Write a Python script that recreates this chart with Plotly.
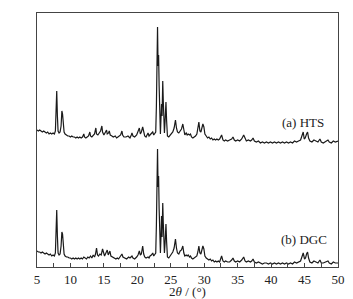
import plotly.graph_objects as go

# XRD pattern (a) HTS: 2theta and intensity (a.u.)
two_theta_a = [5.0, 5.2, 5.4, 5.6, 5.8, 6.0, 6.2, 6.4, 6.6, 6.8, 7.0, 7.2, 7.4, 7.6, 7.75, 7.85, 7.95, 8.05, 8.15,
               8.3, 8.45, 8.6, 8.72, 8.82, 8.92, 9.05, 9.2, 9.4, 9.6, 9.8, 10.0, 10.2, 10.4, 10.6, 10.8, 11.0, 11.2,
               11.4, 11.6, 11.8, 12.0, 12.1, 12.3, 12.5, 12.7, 12.9, 13.0, 13.2, 13.4, 13.6, 13.8, 13.9, 14.1, 14.3,
               14.5, 14.7, 14.8, 15.0, 15.2, 15.4, 15.5, 15.7, 15.8, 15.95, 16.2, 16.4, 16.7, 16.9, 17.1, 17.3, 17.5,
               17.7, 17.8, 18.0, 18.3, 18.6, 18.9, 19.1, 19.2, 19.35, 19.6, 19.9, 20.1, 20.3, 20.45, 20.6, 20.8,
               20.95, 21.1, 21.3, 21.5, 21.6, 21.75, 21.9, 22.1, 22.3, 22.45, 22.6, 22.75, 22.85, 22.95, 23.02, 23.1,
               23.18, 23.26, 23.35, 23.45, 23.55, 23.62, 23.7, 23.8, 23.88, 23.95, 24.05, 24.15, 24.28, 24.38, 24.5,
               24.7, 24.9, 25.1, 25.3, 25.5, 25.7, 25.85, 26.0, 26.2, 26.4, 26.6, 26.8, 26.95, 27.1, 27.3, 27.45,
               27.6, 27.8, 27.95, 28.1, 28.3, 28.5, 28.7, 28.9, 29.05, 29.2, 29.35, 29.5, 29.65, 29.8, 29.95, 30.1,
               30.3, 30.5, 30.7, 30.9, 31.1, 31.3, 31.5, 31.7, 31.9, 32.1, 32.3, 32.6, 32.8, 33.0, 33.2, 33.5, 33.8,
               34.1, 34.3, 34.5, 34.7, 35.0, 35.3, 35.6, 35.9, 36.1, 36.3, 36.6, 36.9, 37.1, 37.3, 37.5, 37.8, 38.1,
               38.4, 38.7, 39.0, 39.3, 39.6, 39.9, 40.2, 40.5, 40.8, 41.1, 41.4, 41.7, 42.0, 42.3, 42.6, 42.9, 43.2,
               43.5, 43.8, 44.1, 44.4, 44.6, 44.8, 44.95, 45.1, 45.3, 45.45, 45.6, 45.8, 46.1, 46.4, 46.7, 47.0,
               47.3, 47.5, 47.8, 48.1, 48.5, 48.7, 49.0, 49.3, 49.6, 50.0]
intensity_a = [16, 15, 16, 15, 14, 15, 14, 13, 14, 12, 13, 12, 13, 12, 15, 30, 55, 30, 15,
               13, 14, 20, 35, 32, 20, 14, 12, 11, 10, 10, 9, 10, 9, 9, 8, 9, 8,
               9, 8, 9, 12, 9, 8, 9, 10, 14, 10, 9, 11, 12, 18, 12, 11, 13,
               15, 20, 14, 11, 13, 16, 12, 13, 15, 11, 10, 9, 10, 8, 9, 10, 11,
               15, 11, 9, 9, 10, 8, 11, 13, 10, 9, 11, 14, 18, 12, 14, 19,
               12, 10, 9, 11, 13, 10, 11, 12, 14, 11, 12, 14, 40, 90, 119, 80,
               91, 60, 15, 12, 30, 42, 30, 65, 45, 15, 13, 25, 44, 25, 10,
               9, 11, 12, 14, 18, 26, 18, 14, 13, 15, 17, 22, 14, 11, 13, 11,
               12, 11, 12, 9, 8, 9, 10, 12, 18, 24, 15, 14, 18, 22, 19, 12,
               10, 8, 9, 7, 8, 6, 7, 6, 7, 6, 7, 11, 6, 5, 6, 5, 6,
               7, 9, 6, 5, 6, 5, 7, 11, 7, 5, 6, 5, 6, 8, 5, 4, 5,
               3, 4, 3, 4, 3, 4, 3, 4, 3, 4, 3, 4, 3, 4, 3, 4, 3,
               5, 4, 5, 6, 10, 14, 7, 8, 12, 14, 8, 5, 4, 6, 5, 4,
               7, 4, 3, 4, 6, 4, 3, 5, 4, 5]

# XRD pattern (b) DGC
two_theta_b = [5.0, 5.2, 5.4, 5.6, 5.8, 6.0, 6.2, 6.4, 6.6, 6.8, 7.0, 7.2, 7.4, 7.6, 7.75, 7.85, 7.95, 8.05, 8.15,
               8.3, 8.45, 8.6, 8.72, 8.82, 8.92, 9.05, 9.2, 9.4, 9.6, 9.8, 10.0, 10.2, 10.4, 10.6, 10.8, 11.0, 11.2,
               11.4, 11.6, 11.8, 12.0, 12.2, 12.4, 12.6, 12.8, 13.0, 13.2, 13.4, 13.6, 13.75, 13.9, 14.05, 14.2,
               14.4, 14.6, 14.8, 14.95, 15.1, 15.3, 15.5, 15.65, 15.8, 15.9, 16.05, 16.3, 16.5, 16.8, 17.0, 17.2,
               17.4, 17.55, 17.7, 17.85, 18.1, 18.4, 18.7, 18.9, 19.05, 19.2, 19.35, 19.6, 19.9, 20.1, 20.3, 20.45,
               20.6, 20.8, 20.95, 21.1, 21.3, 21.5, 21.6, 21.75, 21.9, 22.1, 22.3, 22.45, 22.6, 22.75, 22.85, 22.95,
               23.02, 23.1, 23.18, 23.26, 23.35, 23.45, 23.55, 23.62, 23.7, 23.8, 23.88, 23.95, 24.05, 24.15, 24.28,
               24.38, 24.5, 24.7, 24.9, 25.1, 25.3, 25.5, 25.7, 25.85, 26.0, 26.2, 26.4, 26.6, 26.8, 26.95, 27.1,
               27.3, 27.45, 27.6, 27.8, 27.95, 28.1, 28.3, 28.5, 28.7, 28.9, 29.05, 29.2, 29.35, 29.5, 29.65, 29.8,
               29.95, 30.1, 30.3, 30.5, 30.7, 30.9, 31.1, 31.3, 31.5, 31.7, 31.9, 32.1, 32.3, 32.6, 32.8, 33.0,
               33.2, 33.5, 33.8, 34.1, 34.3, 34.5, 34.7, 35.0, 35.3, 35.6, 35.9, 36.1, 36.3, 36.6, 36.9, 37.1,
               37.3, 37.5, 37.8, 38.1, 38.4, 38.7, 39.0, 39.3, 39.6, 39.9, 40.2, 40.5, 40.8, 41.1, 41.4, 41.7,
               42.0, 42.3, 42.6, 42.9, 43.2, 43.5, 43.8, 44.1, 44.4, 44.6, 44.8, 45.0, 45.15, 45.3, 45.45, 45.6,
               45.8, 46.1, 46.4, 46.7, 47.0, 47.3, 47.5, 47.8, 48.1, 48.5, 48.7, 49.0, 49.3, 49.6, 50.0]
intensity_b = [16, 15, 15, 14, 15, 14, 13, 14, 13, 12, 13, 11, 12, 11, 14, 32, 57, 31, 14,
               12, 13, 21, 35, 33, 19, 13, 11, 10, 10, 9, 9, 8, 9, 8, 9, 8, 9,
               8, 9, 8, 10, 9, 8, 10, 9, 11, 9, 12, 10, 13, 19, 12, 11,
               13, 12, 18, 13, 11, 14, 17, 12, 14, 16, 11, 10, 9, 8, 9, 8,
               10, 11, 13, 10, 9, 8, 10, 9, 10, 11, 9, 8, 10, 12, 16, 12,
               13, 21, 13, 10, 9, 10, 10, 9, 11, 12, 14, 11, 12, 14, 42, 95,
               118, 80, 91, 58, 17, 14, 33, 51, 30, 64, 44, 20, 14, 24, 43,
               25, 10, 9, 11, 13, 15, 19, 28, 19, 14, 13, 16, 17, 21, 14, 11,
               12, 11, 12, 10, 11, 9, 8, 9, 10, 11, 15, 21, 14, 13, 17, 21,
               18, 11, 9, 8, 7, 8, 6, 7, 5, 6, 5, 6, 5, 11, 6, 5,
               6, 5, 5, 7, 9, 6, 5, 6, 5, 7, 10, 6, 5, 6, 5, 6,
               8, 5, 4, 5, 4, 3, 4, 4, 3, 4, 3, 4, 3, 4, 3, 4,
               3, 4, 3, 4, 3, 5, 4, 5, 6, 10, 14, 8, 9, 13, 15, 9,
               5, 4, 6, 5, 4, 7, 4, 4, 5, 6, 4, 3, 5, 4, 4]

offset_a = 121  # spostamento verticale del pattern (a)

x_ticks = [5, 10, 15, 20, 25, 30, 35, 40, 45, 50]

serif = 'Liberation Serif, Times New Roman, Times, serif'

fig = go.Figure()
fig.add_trace(go.Scatter(x=two_theta_b, y=intensity_b, mode='lines',
                         line=dict(color='#1a1a1a', width=1.2)))
fig.add_trace(go.Scatter(x=two_theta_a, y=[v + offset_a for v in intensity_a], mode='lines',
                         line=dict(color='#1a1a1a', width=1.2)))

fig.add_annotation(x=44.7, y=145, text='(a) HTS', showarrow=False, xanchor='center', yanchor='middle',
                   font=dict(family=serif, size=13, color='#222'))
fig.add_annotation(x=44.9, y=28, text='(b) DGC', showarrow=False, xanchor='center', yanchor='middle',
                   font=dict(family=serif, size=13, color='#222'))

fig.update_layout(
    width=353, height=299,
    margin=dict(l=37, r=15, t=13, b=32),
    paper_bgcolor='white', plot_bgcolor='white',
    showlegend=False,
    font=dict(family=serif, size=13, color='#222'),
    xaxis=dict(range=[5, 50], tickvals=x_ticks, ticks='inside', ticklen=4, tickcolor='#444',
               minor=dict(dtick=2.5, ticks='inside', ticklen=4, tickcolor='#444'),
               showline=True, linecolor='#444', linewidth=1, mirror=True,
               showgrid=False, zeroline=False, automargin=False,
               tickfont=dict(family=serif, size=13),
               title=dict(text='2<i>θ</i> / (°)', standoff=0, font=dict(family=serif, size=13))),
    yaxis=dict(range=[0, 254], showticklabels=False, ticks='',
               showline=True, linecolor='#444', linewidth=1, mirror=True,
               showgrid=False, zeroline=False, automargin=False),
)

# toglie il margine di default del body
fig.write_html("out.html", config={'displayModeBar': False},
               post_script="document.body.style.margin='0';")
